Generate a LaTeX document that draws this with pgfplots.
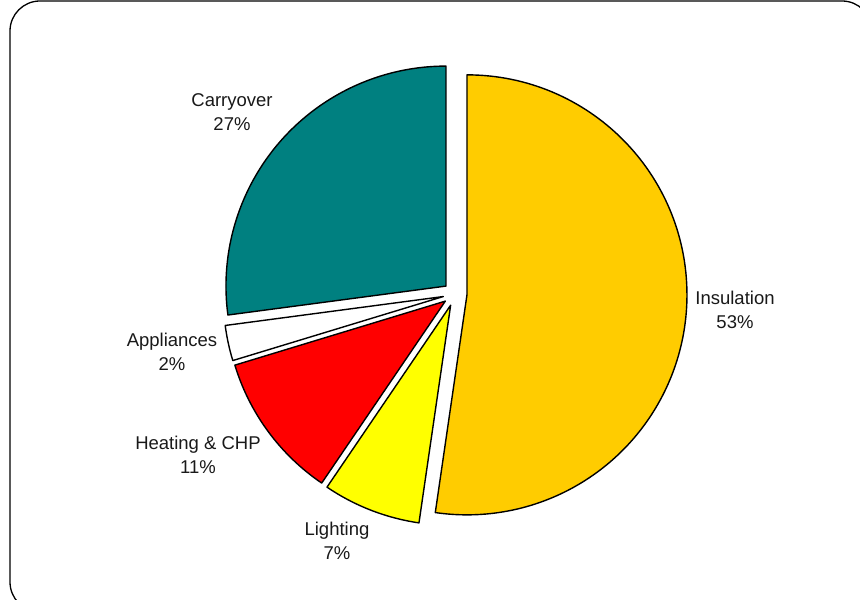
\documentclass[border=0pt]{standalone}
\usepackage{pgfplots}
\pgfplotsset{compat=1.18}
\usepackage{fontspec}
\setmainfont{Liberation Sans}
\definecolor{insul}{HTML}{FFCC00}
\definecolor{light}{HTML}{FFFF00}
\definecolor{heat}{HTML}{FF0000}
\definecolor{appl}{HTML}{FFFFFF}
\definecolor{carry}{HTML}{008080}
\def\cx{455}\def\cy{306}\def\R{220}\def\dd{12}
\gdef\sa{90}
\newcommand\slice[2]{% #1 percent, #2 colour
  \pgfmathsetmacro\ea{\sa-3.6*#1}%
  \pgfmathsetmacro\ma{(\sa+\ea)/2}%
  \pgfmathsetmacro\ox{\cx+\dd*cos(\ma)}%
  \pgfmathsetmacro\oy{\cy+\dd*sin(\ma)}%
  \edef\tmp{\noexpand\filldraw[fill=#2,draw=black,line width=1.4pt,line join=round]
    (axis cs:\ox,\oy) -- ++(\sa:\R pt) arc[start angle=\sa,end angle=\ea,radius=\R pt] -- cycle;}%
  \tmp
  \xdef\sa{\ea}%
}
\tikzset{lbl/.style={font=\fontsize{18.5}{24}\selectfont,align=center,text=black!90,inner sep=0pt}}
\begin{document}
\begin{tikzpicture}
\useasboundingbox (0,0) rectangle (860pt,600pt);
\fill[white] (0,0) rectangle (860pt,600pt);
\draw[line width=1.3pt, rounded corners=30pt] (10pt,-12pt) rectangle (872pt,599pt);
\begin{axis}[x=1pt,y=1pt,xmin=0,xmax=860,ymin=0,ymax=600,hide axis,clip=false,
  anchor=origin,at={(0,0)}]
\slice{52.3}{insul}
\slice{7.2}{light}
\slice{10.8}{heat}
\slice{2.6}{appl}
\slice{27.1}{carry}
\node[lbl] at (axis cs:735,290) {Insulation\\53\%};
\node[lbl] at (axis cs:337,59) {Lighting\\7\%};
\node[lbl] at (axis cs:198,145) {Heating \& CHP\\11\%};
\node[lbl] at (axis cs:172,248) {Appliances\\2\%};
\node[lbl] at (axis cs:232,488) {Carryover\\27\%};
\end{axis}
\end{tikzpicture}
\end{document}
